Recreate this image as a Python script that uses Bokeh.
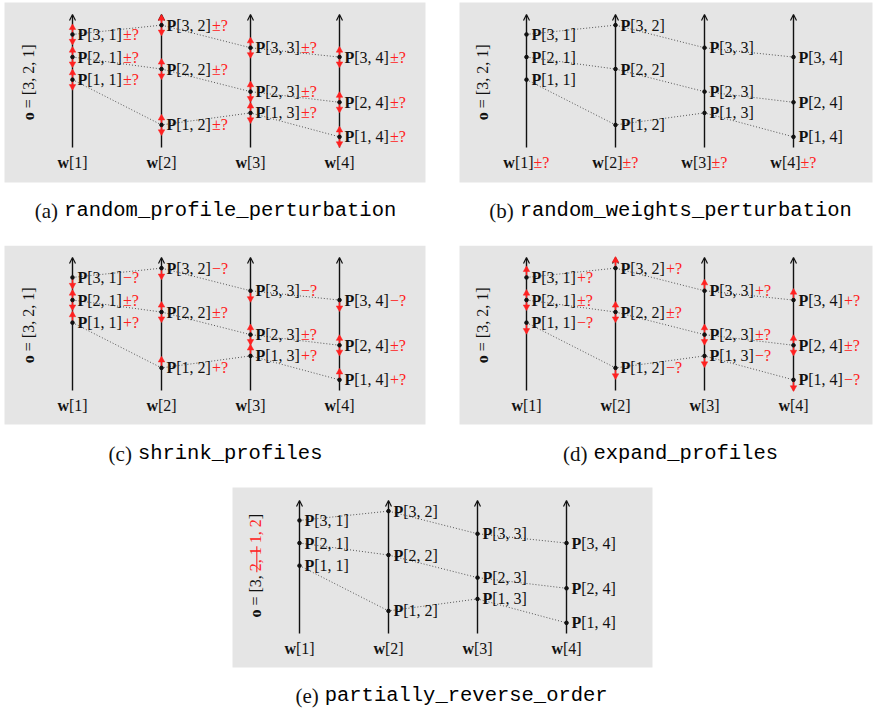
import math
from bokeh.plotting import figure
from bokeh.models import ColumnDataSource, Range1d, Arrow, OpenHead
from bokeh.layouts import column, row
from bokeh.embed import file_html
from bokeh.resources import INLINE
from bokeh.core.properties import value

# ---------------- data ----------------
axes = [1, 2, 3, 4]
profile_ids = [1, 2, 3]
profile_1 = [0.51, 0.17, 0.26, 0.08]
profile_2 = [0.68, 0.59, 0.42, 0.34]
profile_3 = [0.85, 0.92, 0.75, 0.68]
profiles = [profile_1, profile_2, profile_3]
order = [3, 2, 1]
signs_random = ["±", "±", "±"]      # per profile 1, 2, 3
signs_shrink = ["+", "±", "−"]
signs_expand = ["−", "±", "+"]
captions = ["random_profile_perturbation", "random_weights_perturbation",
            "shrink_profiles", "expand_profiles", "partially_reverse_order"]
letters = ["(a)", "(b)", "(c)", "(d)", "(e)"]

# ---------------- style ----------------
SERIF = "Liberation Serif"
MONO = "Liberation Mono"
RED = "#ff2020"
INK = "#111111"
BOX = "#e5e5e5"
FS = 16
SX, SY = 89.0, 133.0   # pixels per axis step / per unit of value

EM = {"[": .333, "]": .333, ",": .25, " ": .25, "=": .564, "±": .564, "?": .444,
      "+": .564, "−": .564, "(": .333, ")": .333, "a": .444, "b": .5, "c": .444,
      "d": .5, "e": .444}
EMB = {"P": .611, "w": .722, "o": .5}


def tw(s, size=FS, bold=False):
    t = 0.0
    for ch in s:
        if bold:
            t += EMB.get(ch, .55)
        elif ch.isdigit():
            t += .5
        else:
            t += EM.get(ch, .5)
    return t * size


def txt(p, xs, ys, texts, size=FS, font=SERIF, bold=False, color=INK, align="left",
        xoff=0, angle=0.0, baseline="middle"):
    p.text(x=xs, y=ys, text=texts, text_font=value(font), text_font_size=f"{size}px",
           text_font_style="bold" if bold else "normal", text_color=color,
           text_align=align, text_baseline=baseline, x_offset=xoff, angle=angle)


def make_panel(k, rect, anchor, boxr, cap, signs=None, weights=False, reverse=False):
    x0, y0, x1, y1 = rect
    ax, ay = anchor
    fx = lambda px: 1 + (px - ax) / SX
    fy = lambda py: (ay - py) / SY
    p = figure(width=x1 - x0, height=y1 - y0,
               x_range=Range1d(fx(x0), fx(x1)), y_range=Range1d(fy(y1), fy(y0)),
               output_backend="svg", toolbar_location=None, min_border=0,
               x_axis_location=None, y_axis_location=None,
               outline_line_color=None, background_fill_color="white",
               border_fill_color="white")
    p.grid.visible = False

    # grey panel
    p.quad(left=[fx(boxr[0])], right=[fx(boxr[2])], top=[fy(boxr[1])], bottom=[fy(boxr[3])],
           fill_color=BOX, line_color=None, level="image")

    # vertical criteria axes
    asrc = ColumnDataSource(dict(x=axes, y0=[0] * 4, y1=[1] * 4))
    p.add_layout(Arrow(x_start="x", y_start="y0", x_end="x", y_end="y1", source=asrc,
                       line_color=INK, line_width=1.4, level="underlay",
                       end=OpenHead(size=6, line_width=1.2, line_color=INK)))

    # dotted profile lines
    p.multi_line(xs=[axes] * 3, ys=profiles, line_color="#555555", line_width=1,
                 line_dash="1 2")

    px, py, lab, suf = [], [], [], []
    shx, sha, shb = [], [], []          # red shafts
    upx, upy, dnx, dny = [], [], [], []  # red heads
    for i, vals in zip(profile_ids, profiles):
        for j, v in zip(axes, vals):
            px.append(j)
            py.append(v)
            lab.append(f"[{i}, {j}]")
            if signs is not None:
                s = signs[i - 1]
                suf.append(s + "?")
                if s == "±":
                    lo, hi = v - 9 / SY, v + 9 / SY
                    upx.append(j); upy.append(hi - 2.2 / SY)
                    dnx.append(j); dny.append(lo + 2.2 / SY)
                elif s == "+":
                    lo, hi = v, v + 10 / SY
                    upx.append(j); upy.append(hi - 2.2 / SY)
                else:
                    lo, hi = v - 10 / SY, v
                    dnx.append(j); dny.append(lo + 2.2 / SY)
                shx.append(j); sha.append(lo); shb.append(hi)

    if signs is not None:
        p.segment(x0=shx, y0=sha, x1=shx, y1=shb, line_color=RED, line_width=1.5)
        if upx:
            p.scatter(upx, upy, marker="triangle", size=6.5, fill_color=RED,
                      line_color=RED, line_width=0.5)
        if dnx:
            p.scatter(dnx, dny, marker="inverted_triangle", size=6.5, fill_color=RED,
                      line_color=RED, line_width=0.5)

    p.scatter(px, py, size=3.6, color=INK)

    # point labels
    wp = tw("P", bold=True)
    wrest = tw("[1, 1]")
    txt(p, px, py, ["P"] * len(px), bold=True, xoff=5)
    txt(p, px, py, lab, xoff=5 + wp)
    if signs is not None:
        txt(p, px, py, suf, color=RED, xoff=5 + wp + wrest + 1)

    # weight labels
    wy = [-14.5 / SY] * 4
    ww = tw("w", bold=True)
    wr = tw("[1]")
    wlab = [f"[{j}]" for j in axes]
    if weights:
        ws = tw("±?")
        start = -(ww + wr + ws) / 2
        txt(p, axes, wy, ["w"] * 4, bold=True, xoff=start)
        txt(p, axes, wy, wlab, xoff=start + ww)
        txt(p, axes, wy, ["±?"] * 4, color=RED, xoff=start + ww + wr)
    else:
        start = -(ww + wr) / 2
        txt(p, axes, wy, ["w"] * 4, bold=True, xoff=start)
        txt(p, axes, wy, wlab, xoff=start + ww)

    # order label (rotated)
    ox = 1 - 44 / SX
    up = math.pi / 2
    sp = tw(" ")
    if not reverse:
        body = "= [" + ", ".join(str(o) for o in order) + "]"
        total = tw("o", bold=True) + sp + tw(body)
        s0 = 0.49 - total / 2 / SY
        txt(p, [ox], [s0], ["o"], bold=True, angle=up)
        txt(p, [ox], [s0 + (tw("o", bold=True) + sp) / SY], [body], angle=up)
    else:
        pieces = [("o", True, INK), ("= [3,", False, INK), ("2, 1", False, RED),
                  ("1, 2", False, RED)]
        widths = [tw(t, bold=b) for t, b, _ in pieces]
        total = sum(widths) + 3 * sp + tw("]")
        pos = 0.51 - total / 2 / SY
        for (t, b, c), wdt in zip(pieces, widths):
            txt(p, [ox], [pos], [t], bold=b, color=c, angle=up)
            if t == "2, 1":
                p.segment(x0=[ox + 1.3 / SX], y0=[pos - 1 / SY], x1=[ox + 1.3 / SX],
                          y1=[pos + (wdt + 1) / SY], line_color=RED, line_width=1.1)
            pos += (wdt + sp) / SY
        pos -= sp / SY
        txt(p, [ox], [pos], ["]"], angle=up)

    # caption
    cx, cy = cap
    CS, MS = 21, 20.5
    wl = tw(letters[k], size=CS)
    wm = 0.6 * MS * len(captions[k])
    total = wl + 6 + wm
    txt(p, [fx(cx)], [fy(cy)], [letters[k]], size=CS, xoff=-total / 2)
    txt(p, [fx(cx)], [fy(cy)], [captions[k]], size=MS, font=MONO, color="#000000",
        xoff=-total / 2 + wl + 6)
    return p


pa = make_panel(0, (0, 0, 440, 245), (72, 147), (4, 2, 425, 182), (215, 210), signs=signs_random)
pb = make_panel(1, (440, 0, 874, 245), (526, 147), (459, 2, 872, 182), (670, 210), weights=True)
pc = make_panel(2, (0, 245, 440, 486), (72, 390), (4, 245, 425, 424), (215, 453), signs=signs_shrink)
pd = make_panel(3, (440, 245, 874, 486), (526, 390), (459, 245, 872, 424), (670, 453), signs=signs_expand)
pe = make_panel(4, (0, 486, 874, 708), (299, 633), (232, 487, 652, 667), (451, 695), reverse=True)

layout = column(row(pa, pb, spacing=0), row(pc, pd, spacing=0), pe, spacing=0)

with open("out.html", "w") as f:
    f.write(file_html(layout, INLINE))
